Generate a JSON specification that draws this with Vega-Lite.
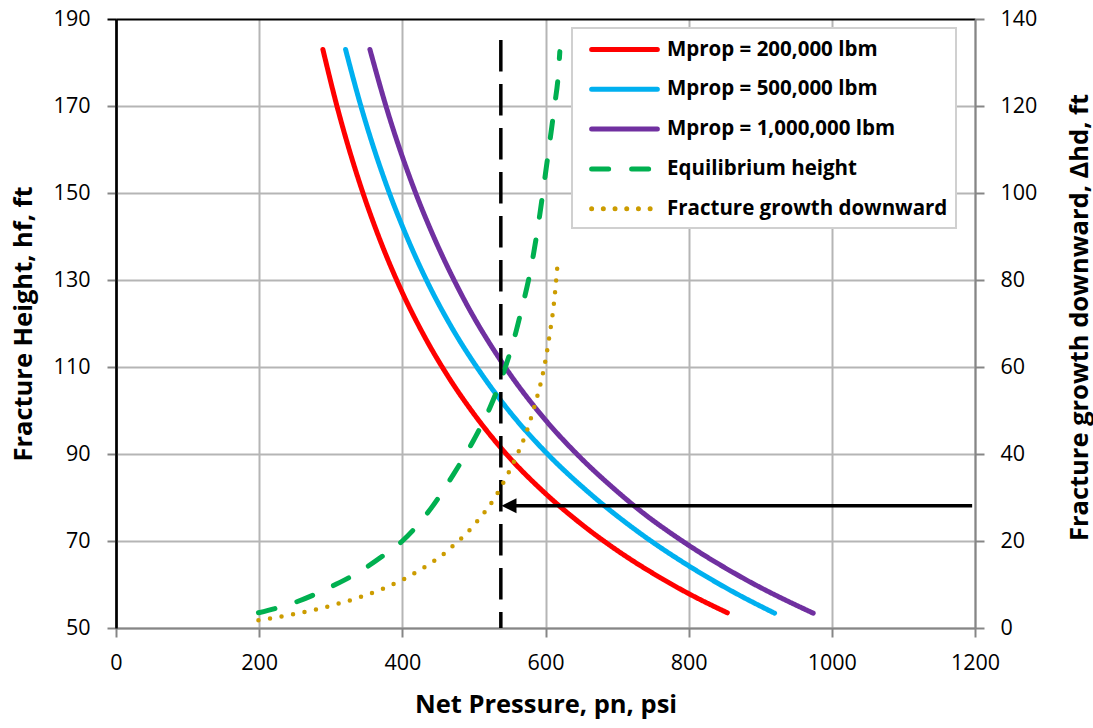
{
  "$schema": "https://vega.github.io/schema/vega-lite/v6.json",
  "width": 859,
  "height": 609,
  "autosize": {"type": "none"},
  "padding": {"left": 116, "top": 19, "right": 118, "bottom": 100},
  "background": "white",
  "config": {
    "font": "Open Sans",
    "view": {"stroke": null},
    "axis": {
      "labelFont": "Open Sans",
      "labelFontSize": 21.5,
      "labelColor": "#000000",
      "titleFont": "Open Sans",
      "titleFontSize": 25.5,
      "titleFontWeight": "bold",
      "titleColor": "#000000",
      "tickColor": "#868686",
      "tickSize": 9,
      "tickWidth": 2,
      "gridColor": "#b5b5b5",
      "gridWidth": 2,
      "domainColor": "#868686",
      "domainWidth": 2
    },
    "legend": {
      "orient": "none",
      "legendX": 456,
      "legendY": 9,
      "fillColor": "white",
      "strokeColor": "#d0d0d0",
      "strokeWidth": 2,
      "padding": 8,
      "labelFont": "Open Sans",
      "labelFontSize": 20.5,
      "labelFontWeight": "bold",
      "labelColor": "#000000",
      "labelLimit": 400,
      "symbolType": "M-3,0H3",
      "symbolSize": 480,
      "symbolStrokeWidth": 5,
      "symbolOffset": 31,
      "labelOffset": 29,
      "rowPadding": 15.8
    }
  },
  "layer": [
    {
      "layer": [
        {
          "data": {
            "values": [
              {"series": "Mprop = 200,000 lbm", "p": 289, "h": 183},
              {"series": "Mprop = 200,000 lbm", "p": 308, "h": 170.4},
              {"series": "Mprop = 200,000 lbm", "p": 345, "h": 150},
              {"series": "Mprop = 200,000 lbm", "p": 363, "h": 141.7},
              {"series": "Mprop = 200,000 lbm", "p": 395, "h": 128.9},
              {"series": "Mprop = 200,000 lbm", "p": 430, "h": 117.3},
              {"series": "Mprop = 200,000 lbm", "p": 464, "h": 107.8},
              {"series": "Mprop = 200,000 lbm", "p": 500, "h": 99.2},
              {"series": "Mprop = 200,000 lbm", "p": 543, "h": 90.4},
              {"series": "Mprop = 200,000 lbm", "p": 600, "h": 80.9},
              {"series": "Mprop = 200,000 lbm", "p": 650, "h": 73.9},
              {"series": "Mprop = 200,000 lbm", "p": 704, "h": 67.4},
              {"series": "Mprop = 200,000 lbm", "p": 760, "h": 61.6},
              {"series": "Mprop = 200,000 lbm", "p": 800, "h": 57.9},
              {"series": "Mprop = 200,000 lbm", "p": 854, "h": 53.5},
              {"series": "Mprop = 500,000 lbm", "p": 320.7, "h": 183},
              {"series": "Mprop = 500,000 lbm", "p": 340, "h": 171.2},
              {"series": "Mprop = 500,000 lbm", "p": 383, "h": 149.5},
              {"series": "Mprop = 500,000 lbm", "p": 403, "h": 141.2},
              {"series": "Mprop = 500,000 lbm", "p": 436, "h": 129.2},
              {"series": "Mprop = 500,000 lbm", "p": 470, "h": 118.8},
              {"series": "Mprop = 500,000 lbm", "p": 511, "h": 108.3},
              {"series": "Mprop = 500,000 lbm", "p": 550, "h": 99.7},
              {"series": "Mprop = 500,000 lbm", "p": 601, "h": 90.3},
              {"series": "Mprop = 500,000 lbm", "p": 660, "h": 81.2},
              {"series": "Mprop = 500,000 lbm", "p": 732, "h": 71.8},
              {"series": "Mprop = 500,000 lbm", "p": 800, "h": 64.3},
              {"series": "Mprop = 500,000 lbm", "p": 860, "h": 58.5},
              {"series": "Mprop = 500,000 lbm", "p": 920, "h": 53.4},
              {"series": "Mprop = 1,000,000 lbm", "p": 354.7, "h": 183},
              {"series": "Mprop = 1,000,000 lbm", "p": 378, "h": 169.5},
              {"series": "Mprop = 1,000,000 lbm", "p": 420, "h": 149.4},
              {"series": "Mprop = 1,000,000 lbm", "p": 441, "h": 141},
              {"series": "Mprop = 1,000,000 lbm", "p": 485, "h": 125.9},
              {"series": "Mprop = 1,000,000 lbm", "p": 541, "h": 110.6},
              {"series": "Mprop = 1,000,000 lbm", "p": 600, "h": 97.8},
              {"series": "Mprop = 1,000,000 lbm", "p": 648, "h": 89.3},
              {"series": "Mprop = 1,000,000 lbm", "p": 700, "h": 81.4},
              {"series": "Mprop = 1,000,000 lbm", "p": 732, "h": 77},
              {"series": "Mprop = 1,000,000 lbm", "p": 792, "h": 69.9},
              {"series": "Mprop = 1,000,000 lbm", "p": 880, "h": 61.1},
              {"series": "Mprop = 1,000,000 lbm", "p": 974, "h": 53.4}
            ]
          },
          "mark": {"type": "line", "strokeWidth": 5, "strokeCap": "round", "interpolate": "monotone"},
          "encoding": {
            "x": {
              "field": "p",
              "type": "quantitative",
              "scale": {"domain": [0, 1200], "nice": false, "zero": false},
              "axis": {
                "values": [0, 200, 400, 600, 800, 1000, 1200],
                "format": "d",
                "labelFlush": false,
                "title": "Net Pressure, pn, psi",
                "labelPadding": 15,
                "titlePadding": 19,
                "gridColor": {"condition": {"test": "datum.value === 0", "value": "#000000"}, "value": "#b5b5b5"}
              }
            },
            "y": {
              "field": "h",
              "type": "quantitative",
              "scale": {"domain": [50, 190], "nice": false, "zero": false},
              "axis": {
                "orient": "left",
                "values": [50, 70, 90, 110, 130, 150, 170, 190],
                "title": "Fracture Height, hf, ft",
                "domainColor": "#000000",
                "domainWidth": 2.5,
                "labelPadding": 17,
                "titleAngle": -90,
                "titleBaseline": "top",
                "titleX": -105,
                "gridColor": {"condition": {"test": "datum.value === 190", "value": "#000000"}, "value": "#b5b5b5"},
                "tickColor": {"condition": {"test": "datum.value === 190", "value": "#000000"}, "value": "#868686"}
              }
            },
            "color": {
              "field": "series",
              "type": "nominal",
              "scale": {
                "domain": ["Mprop = 200,000 lbm", "Mprop = 500,000 lbm", "Mprop = 1,000,000 lbm", "Equilibrium height", "Fracture growth downward"],
                "range": ["#ff0000", "#00b0f0", "#7030a0", "#00b050", "#cc9c00"]
              },
              "legend": {"title": null, "encoding": {"symbols": {"strokeCap": {"value": "round"}}}}
            },
            "strokeDash": {
              "field": "series",
              "type": "nominal",
              "scale": {
                "domain": ["Mprop = 200,000 lbm", "Mprop = 500,000 lbm", "Mprop = 1,000,000 lbm", "Equilibrium height", "Fracture growth downward"],
                "range": [[1, 0], [1, 0], [1, 0], [17, 23], [0, 11.7]]
              },
              "legend": {"title": null, "encoding": {"symbols": {"strokeCap": {"value": "round"}}}}
            }
          }
        },
        {
          "data": {
            "values": [
              {"series": "Equilibrium height", "p": 199, "h": 53.5},
              {"series": "Equilibrium height", "p": 225, "h": 54.6},
              {"series": "Equilibrium height", "p": 252, "h": 56},
              {"series": "Equilibrium height", "p": 276, "h": 57.6},
              {"series": "Equilibrium height", "p": 303, "h": 59.7},
              {"series": "Equilibrium height", "p": 327, "h": 61.7},
              {"series": "Equilibrium height", "p": 352, "h": 64.2},
              {"series": "Equilibrium height", "p": 373, "h": 66.6},
              {"series": "Equilibrium height", "p": 400, "h": 70},
              {"series": "Equilibrium height", "p": 420, "h": 73.4},
              {"series": "Equilibrium height", "p": 440, "h": 77.5},
              {"series": "Equilibrium height", "p": 471, "h": 85.2},
              {"series": "Equilibrium height", "p": 499, "h": 93},
              {"series": "Equilibrium height", "p": 522, "h": 100.5},
              {"series": "Equilibrium height", "p": 543, "h": 109.5},
              {"series": "Equilibrium height", "p": 557, "h": 117},
              {"series": "Equilibrium height", "p": 565, "h": 122.2},
              {"series": "Equilibrium height", "p": 580, "h": 133},
              {"series": "Equilibrium height", "p": 592, "h": 145},
              {"series": "Equilibrium height", "p": 600, "h": 154.5},
              {"series": "Equilibrium height", "p": 607, "h": 163},
              {"series": "Equilibrium height", "p": 613, "h": 170.5},
              {"series": "Equilibrium height", "p": 617.5, "h": 176.5},
              {"series": "Equilibrium height", "p": 620, "h": 182.5}
            ]
          },
          "mark": {"type": "line", "strokeWidth": 5, "strokeCap": "round", "interpolate": "monotone"},
          "encoding": {
            "x": {"field": "p", "type": "quantitative"},
            "y": {"field": "h", "type": "quantitative"},
            "color": {"field": "series", "type": "nominal", "legend": {"title": null, "encoding": {"symbols": {"strokeCap": {"value": "round"}}}}},
            "strokeDash": {"field": "series", "type": "nominal", "legend": {"title": null, "encoding": {"symbols": {"strokeCap": {"value": "round"}}}}}
          }
        },
        {
          "data": {"values": [{"p": 537.6, "top": 185.2, "bottom": 50}]},
          "mark": {"type": "rule", "color": "#000000", "strokeWidth": 3.5, "strokeDash": [31.5, 12.5]},
          "encoding": {
            "x": {"field": "p", "type": "quantitative"},
            "y": {"field": "top", "type": "quantitative"},
            "y2": {"field": "bottom"}
          }
        }
      ]
    },
    {
      "layer": [
        {
          "data": {
            "values": [
              {"series": "Fracture growth downward", "p": 199, "dh": 1.8},
              {"series": "Fracture growth downward", "p": 215, "dh": 2.2},
              {"series": "Fracture growth downward", "p": 248, "dh": 3.2},
              {"series": "Fracture growth downward", "p": 280, "dh": 4.3},
              {"series": "Fracture growth downward", "p": 313, "dh": 5.7},
              {"series": "Fracture growth downward", "p": 343, "dh": 7.2},
              {"series": "Fracture growth downward", "p": 374, "dh": 9.1},
              {"series": "Fracture growth downward", "p": 404, "dh": 11.4},
              {"series": "Fracture growth downward", "p": 432, "dh": 14.1},
              {"series": "Fracture growth downward", "p": 460, "dh": 17.3},
              {"series": "Fracture growth downward", "p": 472, "dh": 19.1},
              {"series": "Fracture growth downward", "p": 485, "dh": 21},
              {"series": "Fracture growth downward", "p": 506, "dh": 24.8},
              {"series": "Fracture growth downward", "p": 527, "dh": 29.4},
              {"series": "Fracture growth downward", "p": 543, "dh": 34},
              {"series": "Fracture growth downward", "p": 557, "dh": 38.6},
              {"series": "Fracture growth downward", "p": 576, "dh": 46.3},
              {"series": "Fracture growth downward", "p": 585, "dh": 51.2},
              {"series": "Fracture growth downward", "p": 595, "dh": 57.5},
              {"series": "Fracture growth downward", "p": 601, "dh": 62.5},
              {"series": "Fracture growth downward", "p": 606, "dh": 67.7},
              {"series": "Fracture growth downward", "p": 611, "dh": 73.5},
              {"series": "Fracture growth downward", "p": 617, "dh": 83.9}
            ]
          },
          "mark": {"type": "line", "strokeWidth": 4.5, "strokeCap": "round", "interpolate": "monotone"},
          "encoding": {
            "x": {"field": "p", "type": "quantitative"},
            "y": {
              "field": "dh",
              "type": "quantitative",
              "scale": {"domain": [0, 140], "nice": false, "zero": false},
              "axis": {
                "orient": "right",
                "values": [0, 20, 40, 60, 80, 100, 120, 140],
                "title": "Fracture growth downward, Δhd, ft",
                "grid": false,
                "labelPadding": 16,
                "titleAngle": 270,
                "titleBaseline": "top",
                "titleX": 92,
                "titleY": 298
              }
            },
            "color": {"field": "series", "type": "nominal", "legend": {"title": null, "encoding": {"symbols": {"strokeCap": {"value": "round"}}}}},
            "strokeDash": {"field": "series", "type": "nominal", "legend": {"title": null, "encoding": {"symbols": {"strokeCap": {"value": "round"}}}}}
          }
        },
        {
          "data": {"values": [{"from": 1196, "to": 552, "dh": 28.1}]},
          "mark": {"type": "rule", "color": "#000000", "strokeWidth": 3.5},
          "encoding": {
            "x": {"field": "from", "type": "quantitative"},
            "x2": {"field": "to"},
            "y": {"field": "dh", "type": "quantitative"}
          }
        },
        {
          "data": {"values": [{"tip": 538.5, "dh": 28.1}]},
          "mark": {"type": "point", "shape": "M0,0L2,-1L2,1Z", "size": 225, "filled": true, "color": "#000000", "opacity": 1},
          "encoding": {
            "x": {"field": "tip", "type": "quantitative"},
            "y": {"field": "dh", "type": "quantitative"}
          }
        }
      ]
    }
  ],
  "resolve": {"scale": {"y": "independent"}}
}
